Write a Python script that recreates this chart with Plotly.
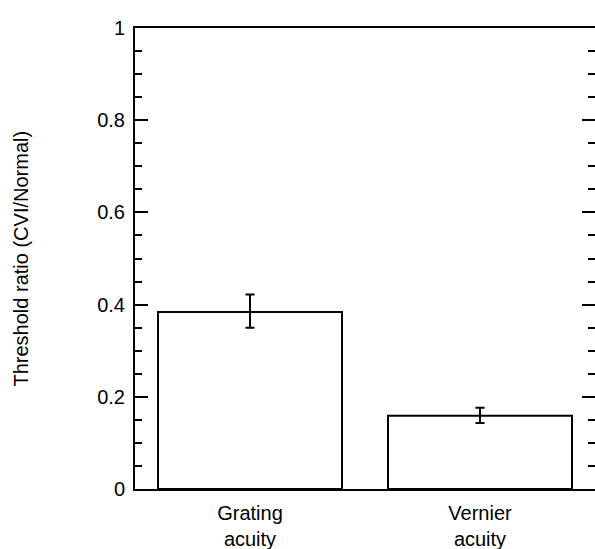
import plotly.graph_objects as go

categories = ["Grating<br>acuity", "Vernier<br>acuity"]
ratios = [0.384, 0.159]
err_plus = [0.038, 0.017]
err_minus = [0.034, 0.016]

y_tickvals = [0, 0.2, 0.4, 0.6, 0.8, 1]
y_ticktext = ["0", "0.2", "0.4", "0.6", "0.8", "1"]

FONT = "Liberation Sans, Arial, Helvetica, sans-serif"

fig = go.Figure()
fig.add_trace(go.Bar(
    x=[0, 1], y=ratios, width=0.8,
    marker=dict(color="white", line=dict(color="black", width=2)),
    error_y=dict(type="data", array=err_plus, arrayminus=err_minus,
                 color="black", thickness=2, width=4.5, symmetric=False),
    showlegend=False,
))
# invisible trace for right axis ticks
fig.add_trace(go.Scatter(x=[0], y=[0], yaxis="y2", mode="markers",
                         marker=dict(opacity=0), showlegend=False, hoverinfo="skip"))

fig.update_layout(
    width=595, height=549,
    margin=dict(l=135, r=0, t=28, b=60),
    paper_bgcolor="white", plot_bgcolor="white",
    font=dict(family=FONT, size=20, color="black"),
    bargap=0.2,
    xaxis=dict(
        range=[-0.5, 1.5], tickvals=[0, 1], ticktext=categories,
        showline=True, linecolor="black", linewidth=2, mirror=True,
        ticks="", showgrid=False, zeroline=False, automargin=False,
        tickfont=dict(size=20), ticklabelstandoff=5,
    ),
    yaxis=dict(
        range=[0, 1], tickvals=y_tickvals, ticktext=y_ticktext,
        showline=True, linecolor="black", linewidth=2, automargin=False,
        ticks="inside", ticklen=13, tickwidth=2, tickcolor="black",
        minor=dict(dtick=0.05, ticks="inside", ticklen=7, tickwidth=2, tickcolor="black"),
        showgrid=False, zeroline=False, tickfont=dict(size=20),
        ticklabelstandoff=4,
    ),
    yaxis2=dict(
        range=[0, 1], overlaying="y", side="right", anchor="x",
        showline=False, showticklabels=False, automargin=False,
        tickvals=y_tickvals,
        ticks="inside", ticklen=13, tickwidth=2, tickcolor="black",
        minor=dict(dtick=0.05, ticks="inside", ticklen=7, tickwidth=2, tickcolor="black"),
        showgrid=False, zeroline=False,
    ),
    annotations=[dict(
        text="Threshold ratio (CVI/Normal)", textangle=-90,
        xref="paper", yref="paper", x=(20 - 135) / 460, y=0.5,
        xanchor="center", yanchor="middle", showarrow=False,
        font=dict(size=20),
    )],
)

fig.write_html("out.html", config={"displayModeBar": False},
               post_script="document.body.style.margin='0';document.body.style.overflow='hidden';")
